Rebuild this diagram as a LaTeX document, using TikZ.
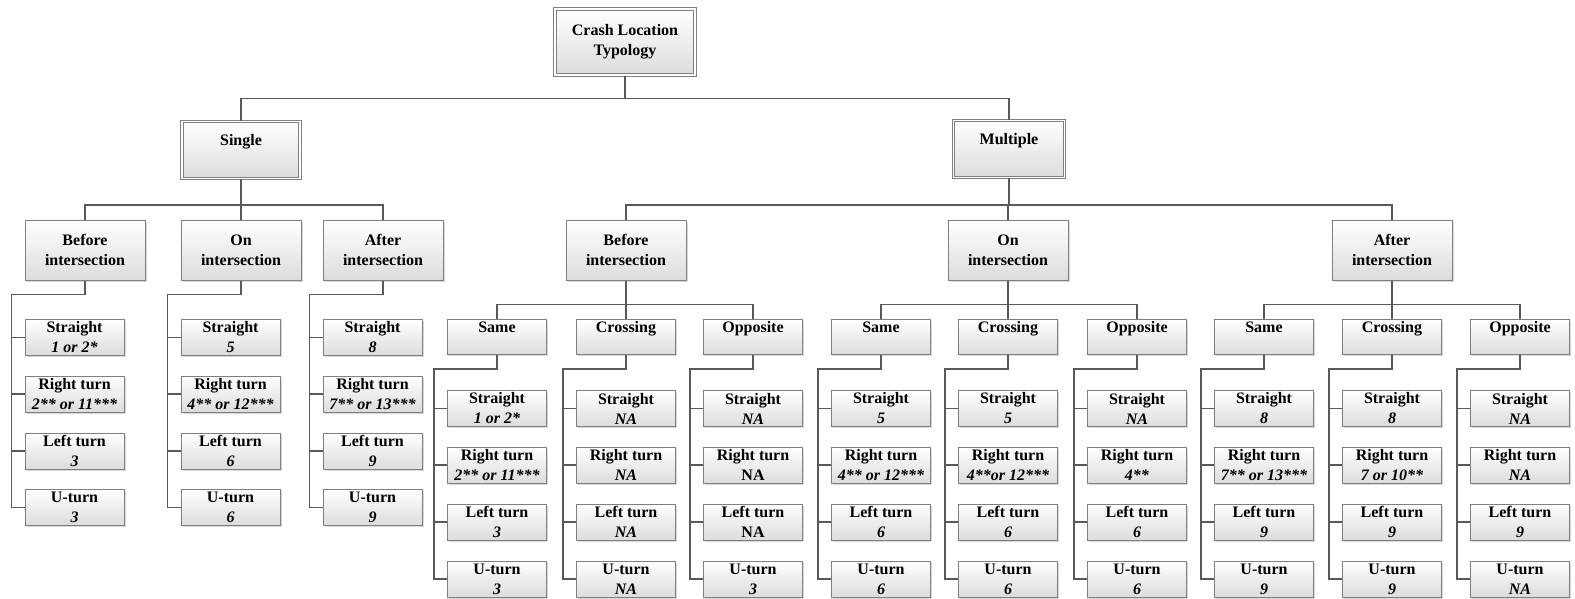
\documentclass[tikz,border=0pt]{standalone}
\usepackage{fontspec}
\setmainfont{Liberation Serif}
\usetikzlibrary{shadows}
\definecolor{Frame}{HTML}{7F7F7F}
\definecolor{Wire}{HTML}{595959}
\definecolor{Shade}{HTML}{DCDCDC}
\tikzset{
  box/.style={
    draw=Frame, line width=1pt, top color=white, bottom color=Shade,
    align=center, inner sep=0pt, font=\bfseries\fontsize{16}{20}\selectfont,
    drop shadow={opacity=0.3, shadow xshift=1.5pt, shadow yshift=-1.5pt}
  },
  rootbox/.style={box, double=white, double distance=1.6pt,
    minimum width=140pt, minimum height=66pt},
  groupbox/.style={box, double=white, double distance=1.6pt,
    minimum width=118pt, minimum height=57pt},
  placebox/.style={box, minimum width=120pt, minimum height=60pt},
  dirbox/.style={box, minimum width=99pt, minimum height=35pt},
  leaf/.style={box, minimum width=99pt, minimum height=36pt},
  link/.style={draw=Wire, line width=1.2pt}
}
\begin{document}
\begin{tikzpicture}[x=1pt,y=-1pt]
    \useasboundingbox (0,0) rectangle (1575,598);

    \node[rootbox] (root) at (625,42) {Crash Location\\Typology};
    \node[groupbox] (single) at (241,150) {Single\\~};
    \node[groupbox,minimum width=111pt] (multiple) at (1009,149) {Multiple\\~};

    \node[placebox] (sb) at (85,250) {Before\\intersection};
    \node[placebox] (so) at (241,250) {On\\intersection};
    \node[placebox] (sa) at (383,250) {After\\intersection};
    \node[placebox] (mb) at (626,250) {Before\\intersection};
    \node[placebox] (mo) at (1008,250) {On\\intersection};
    \node[placebox] (ma) at (1392,250) {After\\intersection};

    \node[dirbox] (mbs) at (497,337) {Same\\~}; \node[dirbox] (mbc) at (626,337) {Crossing\\~};
    \node[dirbox] (mbo) at (753,337) {Opposite\\~};
    \node[dirbox] (mos) at (881,337) {Same\\~}; \node[dirbox] (moc) at (1008,337) {Crossing\\~};
    \node[dirbox] (moo) at (1137,337) {Opposite\\~};
    \node[dirbox] (mas) at (1264,337) {Same\\~}; \node[dirbox] (mac) at (1392,337) {Crossing\\~};
    \node[dirbox] (mao) at (1520,337) {Opposite\\~};

    % single leaves
    \node[leaf] (sb1) at (74.5,337.5) {Straight\\\textit{1 or 2*}};
    \node[leaf] (sb2) at (74.5,394) {Right turn\\\textit{2** or 11***}};
    \node[leaf] (sb3) at (74.5,451) {Left turn\\\textit{3}};
    \node[leaf] (sb4) at (74.5,507.5) {U-turn\\\textit{3}};

    \node[leaf] (so1) at (230.5,337.5) {Straight\\\textit{5}};
    \node[leaf] (so2) at (230.5,394) {Right turn\\\textit{4** or 12***}};
    \node[leaf] (so3) at (230.5,451) {Left turn\\\textit{6}};
    \node[leaf] (so4) at (230.5,507.5) {U-turn\\\textit{6}};

    \node[leaf] (sa1) at (372.5,337.5) {Straight\\\textit{8}};
    \node[leaf] (sa2) at (372.5,394) {Right turn\\\textit{7** or 13***}};
    \node[leaf] (sa3) at (372.5,451) {Left turn\\\textit{9}};
    \node[leaf] (sa4) at (372.5,507.5) {U-turn\\\textit{9}};

    % multiple leaves
    \node[leaf] (mbs1) at (497,408.5) {Straight\\\textit{1 or 2*}};
    \node[leaf] (mbs2) at (497,465) {Right turn\\\textit{2** or 11***}};
    \node[leaf] (mbs3) at (497,522) {Left turn\\\textit{3}};
    \node[leaf] (mbs4) at (497,579) {U-turn\\\textit{3}};
    \node[leaf] (mbc1) at (626,408.5) {Straight\\\textit{NA}};
    \node[leaf] (mbc2) at (626,465) {Right turn\\\textit{NA}};
    \node[leaf] (mbc3) at (626,522) {Left turn\\\textit{NA}};
    \node[leaf] (mbc4) at (626,579) {U-turn\\\textit{NA}};
    \node[leaf] (mbo1) at (753,408.5) {Straight\\\textit{NA}};
    \node[leaf] (mbo2) at (753,465) {Right turn\\NA};
    \node[leaf] (mbo3) at (753,522) {Left turn\\NA};
    \node[leaf] (mbo4) at (753,579) {U-turn\\\textit{3}};

    \node[leaf] (mos1) at (881,408.5) {Straight\\\textit{5}};
    \node[leaf] (mos2) at (881,465) {Right turn\\\textit{4** or 12***}};
    \node[leaf] (mos3) at (881,522) {Left turn\\\textit{6}};
    \node[leaf] (mos4) at (881,579) {U-turn\\\textit{6}};
    \node[leaf] (moc1) at (1008,408.5) {Straight\\\textit{5}};
    \node[leaf] (moc2) at (1008,465) {Right turn\\\textit{4**or 12***}};
    \node[leaf] (moc3) at (1008,522) {Left turn\\\textit{6}};
    \node[leaf] (moc4) at (1008,579) {U-turn\\\textit{6}};
    \node[leaf] (moo1) at (1137,408.5) {Straight\\\textit{NA}};
    \node[leaf] (moo2) at (1137,465) {Right turn\\\textit{4**}};
    \node[leaf] (moo3) at (1137,522) {Left turn\\\textit{6}};
    \node[leaf] (moo4) at (1137,579) {U-turn\\\textit{6}};

    \node[leaf] (mas1) at (1264,408.5) {Straight\\\textit{8}};
    \node[leaf] (mas2) at (1264,465) {Right turn\\\textit{7** or 13***}};
    \node[leaf] (mas3) at (1264,522) {Left turn\\\textit{9}};
    \node[leaf] (mas4) at (1264,579) {U-turn\\\textit{9}};
    \node[leaf] (mac1) at (1392,408.5) {Straight\\\textit{8}};
    \node[leaf] (mac2) at (1392,465) {Right turn\\\textit{7 or 10**}};
    \node[leaf] (mac3) at (1392,522) {Left turn\\\textit{9}};
    \node[leaf] (mac4) at (1392,579) {U-turn\\\textit{9}};
    \node[leaf] (mao1) at (1520,408.5) {Straight\\\textit{NA}};
    \node[leaf] (mao2) at (1520,465) {Right turn\\\textit{NA}};
    \node[leaf] (mao3) at (1520,522) {Left turn\\\textit{9}};
    \node[leaf] (mao4) at (1520,579) {U-turn\\\textit{NA}};

    % tree links
    \draw[link] (root.south) -- ++(0,23) -| (single.north);
    \draw[link] (root.south) -- ++(0,23) -| (multiple.north);
    \draw[link] (single.south) -- ++(0,26) -| (sb.north);
    \draw[link] (single.south) -- ++(0,26) -| (sa.north);
    \draw[link] (single.south) -- (so.north);
    \draw[link] (multiple.south) -- ++(0,27) -| (mb.north);
    \draw[link] (multiple.south) -- ++(0,27) -| (ma.north);
    \draw[link] (multiple.south) -- ++(0,27) -| (mo.north);
    \draw[link] (mb.south) -- ++(0,24) -| (mbs.north); \draw[link] (mb.south) -- ++(0,24) -| (mbo.north);
    \draw[link] (mb.south) -- (mbc.north);
    \draw[link] (mo.south) -- ++(0,24) -| (mos.north); \draw[link] (mo.south) -- ++(0,24) -| (moo.north);
    \draw[link] (mo.south) -- (moc.north);
    \draw[link] (ma.south) -- ++(0,24) -| (mas.north); \draw[link] (ma.south) -- ++(0,24) -| (mao.north);
    \draw[link] (ma.south) -- (mac.north);

    \foreach \p in {sb,so,sa,mbs,mbc,mbo,mos,moc,moo,mas,mac,mao}{
      \draw[link] (\p.south) -- ++(0,14) -| ([xshift=-13pt]\p4.west) -- (\p4.west);
      \draw[link] (\p1.west) -- ++(-13,0); \draw[link] (\p2.west) -- ++(-13,0);
      \draw[link] (\p3.west) -- ++(-13,0);
    }
\end{tikzpicture}
\end{document}
